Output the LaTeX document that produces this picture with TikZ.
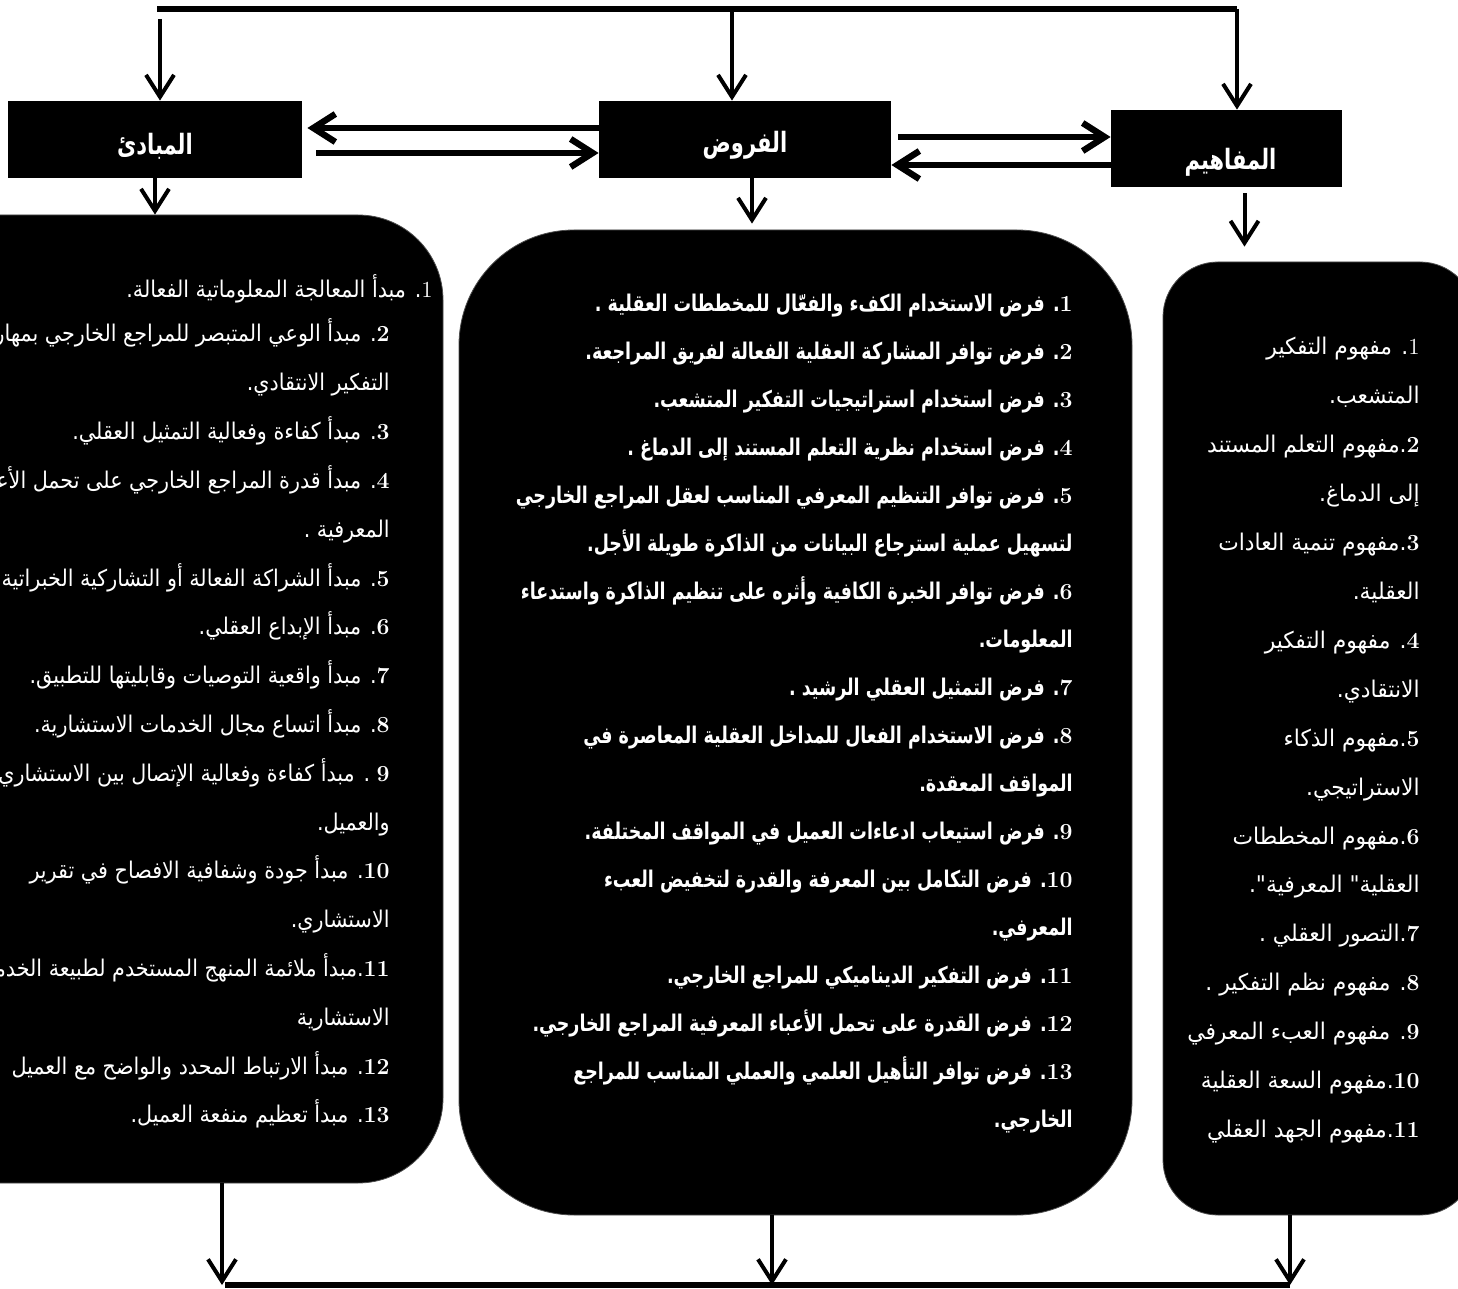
\documentclass[tikz,border=0pt]{standalone}
\usepackage{fontspec}
\usetikzlibrary{arrows.meta, positioning}
\TeXXeTstate=1
\newfontfamily\arright[Script=Arabic, FakeStretch=0.95]{DejaVu Sans}
\newfontfamily\arleft[Script=Arabic, FakeStretch=0.9]{DejaVu Sans}
\newfontfamily\armid[Script=Arabic, FakeStretch=0.76]{DejaVu Sans}
\newfontfamily\arhead[Script=Arabic, FakeStretch=0.75]{DejaVu Sans}

% Arabic line, right to left; numbers stay left to right
\newcommand\ar[1]{\beginR #1\endR}
\newcommand\nm[1]{\beginL{\rmfamily\bfseries #1}\endL}
\newcommand\nmthin[1]{\beginL{\rmfamily\mdseries #1}\endL}

\begin{document}
\begin{tikzpicture}[x=0.5pt, y=-0.5pt,
    >={Straight Barb[length=11pt, width=14pt]},
    hdr/.style={fill=black, inner sep=0pt, minimum height=38.5pt},
    hlabel/.style={text=white, inner sep=0pt, font=\arhead\fontsize{14pt}{16pt}\selectfont\bfseries},
    listbox/.style={fill=black, draw=black!70, line width=0.4pt, inner sep=0pt},
    txt/.style={anchor=base east, text=white, inner sep=0pt},
    link/.style={->, line width=2pt},
    bar/.style={->, line width=3.2pt},
    rail/.style={line width=3pt}]

    \useasboundingbox (0,0) rectangle (1458,1289);
    \clip (0,0) rectangle (1458,1289);

    % --- header boxes ---
    \node[hdr, minimum width=147pt, label={[hlabel, yshift=-3.5pt]center:\ar{المبادئ}}] (mabadi) at (155,139.5) {};
    \node[hdr, minimum width=146pt, label={[hlabel, yshift=-3pt]center:\ar{الفروض}}] (furud) at (745,139.5) {};
    \node[hdr, minimum width=115.5pt, label={[hlabel, yshift=-7pt, xshift=2pt]center:\ar{المفاهيم}}] (mafahim) at (1226.5,148.5) {};

    % --- list boxes ---
    \node[listbox, rounded corners=42.5pt, minimum width=271.5pt, minimum height=484pt] (mabadiList) at (171.5,699) {};
    \node[listbox, rounded corners=57.5pt, minimum width=336.5pt, minimum height=492.5pt] (furudList) at (795.5,722.5) {};
    \node[listbox, rounded corners=27.5pt, minimum width=156pt, minimum height=476.5pt] (mafahimList) at (1319,738.5) {};

    % --- top rail and drops ---
    \coordinate (tL) at (160,9);
    \coordinate (tM) at (732,9);
    \coordinate (tR) at (1237,9);
    \draw[rail] ([xshift=-1.5pt]tL) -- (tR);
    \draw[link] ([yshift=-5pt]tL) -- (tL |- mabadi.north);
    \draw[link] (tM) -- (tM |- furud.north);
    \draw[link] (tR) -- (tR |- mafahim.north);

    % --- arrows between headers ---
    \draw[bar, shorten >=2.5pt] ([yshift=5.75pt]furud.west) -- ([yshift=5.75pt]mabadi.east);
    \draw[bar, shorten <=7pt] ([yshift=-6.75pt]mabadi.east) -- ([yshift=-6.75pt]furud.west);
    \draw[bar, shorten <=3.5pt] ([yshift=1.25pt]furud.east) -- ([yshift=5.75pt]mafahim.west);
    \draw[bar] ([yshift=-8.25pt]mafahim.west) -- ([yshift=-12.75pt]furud.east);

    % --- headers down to lists ---
    \draw[link] (mabadi.south) -- (mabadi.south |- mabadiList.north);
    \draw[link, shorten >=3pt] ([xshift=3.5pt]furud.south) -- ([xshift=3.5pt]furud.south |- furudList.north);
    \draw[link, shorten <=3pt, shorten >=7.5pt] ([xshift=9pt]mafahim.south) -- ([xshift=9pt]mafahim.south |- mafahimList.north);

    % --- bottom rail ---
    \coordinate (bL) at (222,1285);
    \coordinate (bM) at (772,1285);
    \coordinate (bR) at (1290,1285);
    \draw[link] (mabadiList.south -| bL) -- (bL);
    \draw[link] (furudList.south -| bM) -- (bM);
    \draw[link] (mafahimList.south -| bR) -- (bR);
    \draw[rail] ([xshift=1.5pt]bL) -- (bR);

    % --- principles ---
    \begin{scope}[font=\arleft\fontsize{11.5pt}{14pt}\selectfont]
    \node[txt] (p1) at (433,298) {\ar{\nmthin{1}. مبدأ المعالجة المعلوماتية الفعالة.}};
    \foreach \t [count=\i from 2] in {
        {\nm{2}. مبدأ الوعي المتبصر للمراجع الخارجي بمهارات},
        {التفكير الانتقادي.},
        {\nm{3}. مبدأ كفاءة وفعالية التمثيل العقلي.},
        {\nm{4}. مبدأ قدرة المراجع الخارجي على تحمل الأعباء},
        {المعرفية .},
        {\nm{5}. مبدأ الشراكة الفعالة  أو التشاركية الخبراتية},
        {\nm{6}. مبدأ الإبداع العقلي.},
        {\nm{7}. مبدأ واقعية التوصيات وقابليتها للتطبيق.},
        {\nm{8}. مبدأ اتساع مجال الخدمات الاستشارية.},
        {\nm{9} . مبدأ كفاءة وفعالية الإتصال بين الاستشاري},
        {والعميل.},
        {\nm{10}. مبدأ جودة وشفافية الافصاح في تقرير},
        {الاستشاري.},
        {\nm{11}.مبدأ ملائمة المنهج المستخدم لطبيعة الخدمات},
        {الاستشارية},
        {\nm{12}. مبدأ الارتباط المحدد والواضح مع العميل},
        {\nm{13}. مبدأ تعظيم منفعة العميل.}}
      \node[txt] (p\i) at (390,{342+48.8*(\i-2)}) {\ar{\t}};
    \end{scope}

    % --- hypotheses ---
    \begin{scope}[font=\armid\fontsize{11.5pt}{14pt}\selectfont\bfseries]
    \foreach \t [count=\i] in {
        {\nm{1}. فرض الاستخدام الكفء والفعّال للمخططات العقلية .},
        {\nm{2}. فرض توافر المشاركة العقلية الفعالة لفريق المراجعة.},
        {\nm{3}. فرض استخدام استراتيجيات التفكير المتشعب.},
        {\nm{4}. فرض استخدام نظرية التعلم المستند إلى الدماغ .},
        {\nm{5}. فرض توافر التنظيم المعرفي المناسب لعقل المراجع الخارجي},
        {لتسهيل عملية استرجاع البيانات من الذاكرة طويلة الأجل.},
        {\nm{6}. فرض توافر الخبرة الكافية وأثره على تنظيم الذاكرة واستدعاء},
        {المعلومات.},
        {\nm{7}. فرض التمثيل العقلي الرشيد .},
        {\nm{8}. فرض الاستخدام الفعال للمداخل العقلية  المعاصرة في},
        {المواقف المعقدة.},
        {\nm{9}. فرض استيعاب ادعاءات العميل في المواقف المختلفة.},
        {\nm{10}. فرض التكامل بين المعرفة والقدرة لتخفيض العبء},
        {المعرفي.},
        {\nm{11}. فرض التفكير الديناميكي للمراجع الخارجي.},
        {\nm{12}. فرض القدرة على تحمل الأعباء المعرفية المراجع الخارجي.},
        {\nm{13}. فرض توافر التأهيل العلمي والعملي المناسب للمراجع},
        {الخارجي.}}
      \node[txt] (h\i) at (1073,{312+47.95*(\i-1)}) {\ar{\t}};
    \end{scope}

    % --- concepts ---
    \begin{scope}[font=\arright\fontsize{11.5pt}{14pt}\selectfont]
    \foreach \t [count=\i] in {
        {\nmthin{1}. مفهوم التفكير},
        {المتشعب.},
        {\nm{2}.مفهوم التعلم المستند},
        {إلى الدماغ.},
        {\nm{3}.مفهوم تنمية العادات},
        {العقلية.},
        {\nm{4}. مفهوم التفكير},
        {الانتقادي.},
        {\nm{5}.مفهوم الذكاء},
        {الاستراتيجي.},
        {\nm{6}.مفهوم المخططات},
        {العقلية" المعرفية".},
        {\nm{7}.التصور العقلي .},
        {\nm{8}. مفهوم نظم التفكير .},
        {\nm{9}. مفهوم العبء المعرفي},
        {\nm{10}.مفهوم السعة العقلية},
        {\nm{11}.مفهوم الجهد العقلي}}
      \node[txt] (c\i) at (1420,{355+48.9*(\i-1)}) {\ar{\t}};
    \end{scope}
\end{tikzpicture}
\end{document}
